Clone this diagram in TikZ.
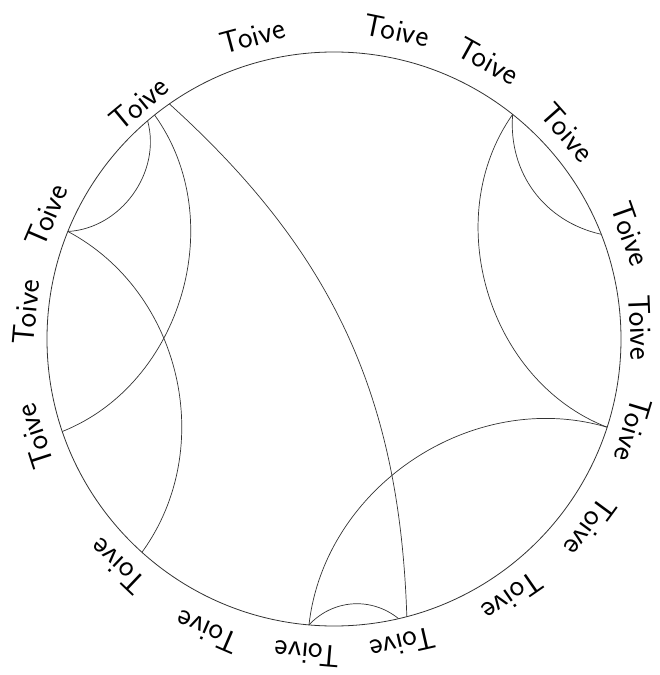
\documentclass[tikz,border=0pt]{standalone}
\usepackage{tikz}
\usetikzlibrary{calc}
\definecolor{ink}{HTML}{333333}

\begin{document}
\begin{tikzpicture}[x=1pt,y=1pt,
  rim/.style={ink,line width=0.8pt},
  geod/.style={ink,line width=0.7pt},
  word/.style={font=\sffamily\fontsize{31}{31}\selectfont,inner sep=0pt}]
  \useasboundingbox (-334,-336) rectangle (325,339);
  \draw[rim] (0,0) circle (287);
  \foreach \n/\a in {nwa/130.5,nwb/128.7,nwc/125,wa/158,wb/198.8,sw/228,
                     sa/265,sb/283,sc/284.7,ea/342.1,nea/51.5,neb/21.4}
    {\coordinate (\n) at (\a:287);}
  \draw[geod] (nwa) to[bend left=51] (wa);
  \draw[geod] (nwb) to[bend left=52] (wb);
  \draw[geod] (wa) to[bend left=49] (sw);
  \draw[geod] (nwc) to[bend left=23] (sc);
  \draw[geod] (sa) to[bend left=50] (ea);
  \draw[geod] (sa) to[bend left=43] (sb);
  \draw[geod] (nea) to[bend right=52] (ea);
  \draw[geod] (nea) to[bend right=41] (neb);
  \foreach \a/\r [count=\i, evaluate=\a as \rot using \a-90] in
     {105/314,78.5/315,61/318,41.5/312,19.5/315,2.2/307,-16.8/313,-36.3/318,
      -55.3/314,-77.2/313,-94.8/316,-113.3/319,-133.5/314,-162/315,175/309,
      156.8/313,129.6/306}
    {\node[word,rotate=\rot] (w\i) at (\a:\r) {Toive};}
\end{tikzpicture}
\end{document}
